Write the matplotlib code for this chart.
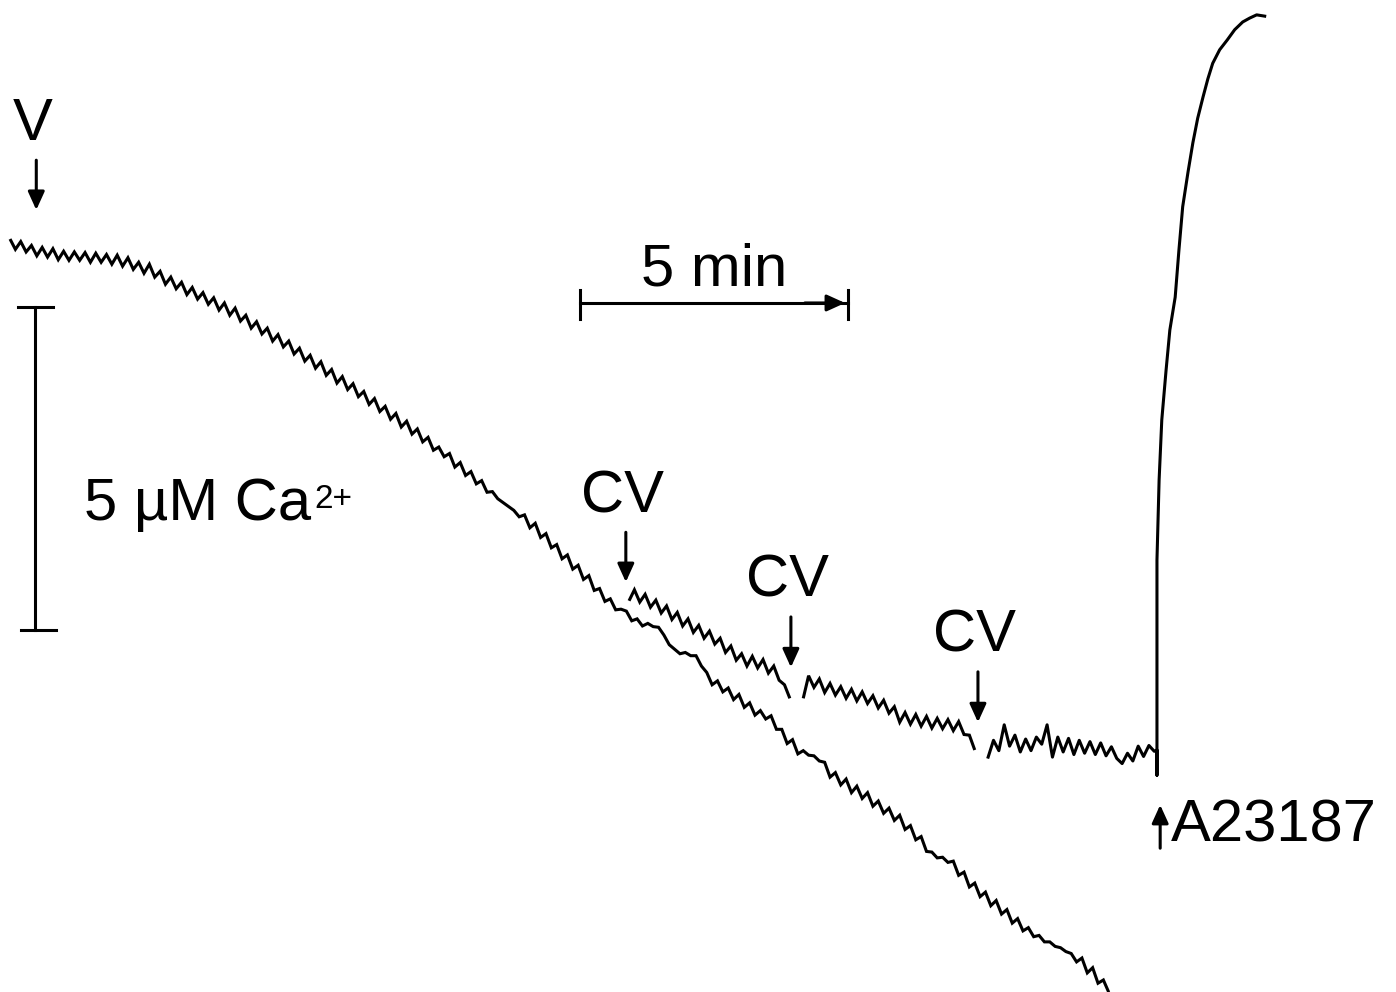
import numpy as np
import matplotlib.pyplot as plt

plt.rcParams['font.family'] = ['Liberation Sans', 'DejaVu Sans']

# recorder sampled every 0.1 min; time in min, Ca2+ in uM (relative)
DT = 0.1

# common part of both records, from addition of V (t = 0) up to first CV
t0_before = 0.0
ca_before = [
    11.78, 11.62, 11.74, 11.58, 11.68, 11.52, 11.65, 11.50, 11.63, 11.46,
    11.59, 11.45, 11.58, 11.45, 11.57, 11.42, 11.56, 11.42, 11.54, 11.39,
    11.53, 11.36, 11.49, 11.31, 11.42, 11.25, 11.39, 11.19, 11.28, 11.08,
    11.19, 11.01, 11.11, 10.92, 11.03, 10.85, 10.95, 10.77, 10.87, 10.68,
    10.79, 10.60, 10.71, 10.51, 10.60, 10.40, 10.50, 10.31, 10.40, 10.20,
    10.30, 10.11, 10.20, 10.00, 10.09, 9.89, 9.98, 9.78, 9.88, 9.67,
    9.76, 9.55, 9.65, 9.45, 9.54, 9.34, 9.42, 9.22, 9.31, 9.11,
    9.19, 8.99, 9.08, 8.87, 8.96, 8.76, 8.84, 8.64, 8.71, 8.51,
    8.56, 8.41, 8.46, 8.25, 8.32, 8.12, 8.18, 7.99, 8.04, 7.86,
    7.87, 7.76, 7.70, 7.64, 7.58, 7.48, 7.51, 7.31, 7.38, 7.16,
    7.22, 7.00, 7.05, 6.83, 6.89, 6.67, 6.73, 6.51, 6.57, 6.34,
    6.37, 6.17, 6.21, 6.04, 6.05,
]

# control record (no CV) continuing after 11.4 min
t0_control = 11.5
ca_control = [
    6.02, 5.87, 5.90, 5.79, 5.83, 5.78, 5.77, 5.65, 5.50, 5.43,
    5.36, 5.38, 5.33, 5.33, 5.17, 5.07, 4.88, 4.94, 4.77, 4.83,
    4.65, 4.73, 4.53, 4.60, 4.41, 4.48, 4.35, 4.40, 4.19, 4.19,
    3.97, 4.03, 3.81, 3.86, 3.79, 3.78, 3.70, 3.68, 3.45, 3.52,
    3.33, 3.42, 3.21, 3.31, 3.12, 3.21, 3.00, 3.08, 2.89, 2.97,
    2.78, 2.86, 2.64, 2.70, 2.48, 2.53, 2.30, 2.29, 2.20, 2.21,
    2.13, 2.15, 1.93, 1.98, 1.75, 1.81, 1.60, 1.67, 1.46, 1.54,
    1.33, 1.40, 1.19, 1.26, 1.07, 1.12, 0.98, 1.00, 0.90, 0.90,
    0.83, 0.81, 0.75, 0.72, 0.59, 0.65, 0.42, 0.50, 0.26, 0.31,
    0.12,
]

# record with CV additions: segment after each CV
t0_seg1 = 11.55
ca_seg1 = [
    6.18, 6.35, 6.16, 6.28, 6.08, 6.19, 5.99, 6.10, 5.89, 6.00,
    5.79, 5.90, 5.69, 5.80, 5.60, 5.71, 5.51, 5.60, 5.38, 5.48,
    5.26, 5.36, 5.17, 5.32, 5.14, 5.27, 5.06, 5.17, 4.95, 4.88,
    4.67,
]
t0_seg2 = 14.8
ca_seg2 = [
    4.67, 5.02, 4.84, 4.97, 4.76, 4.90, 4.72, 4.85, 4.67, 4.81,
    4.63, 4.77, 4.59, 4.71, 4.52, 4.64, 4.44, 4.54, 4.30, 4.45,
    4.27, 4.42, 4.24, 4.39, 4.21, 4.36, 4.20, 4.34, 4.17, 4.31,
    4.11, 4.10, 3.87,
]
t0_seg3 = 18.25
ca_seg3 = [
    3.76, 4.02, 3.86, 4.26, 3.93, 4.10, 3.84, 4.04, 3.86, 4.07,
    3.96, 4.26, 3.76, 4.07, 3.84, 4.05, 3.80, 4.02, 3.82, 4.00,
    3.80, 3.98, 3.78, 3.92, 3.74, 3.66, 3.82, 3.70, 3.93, 3.77,
    3.94, 3.85,
]

# A23187 response
t_a23187 = [21.40, 21.40, 21.40, 21.44, 21.49, 21.57, 21.64, 21.74, 21.81, 21.88,
            21.98, 22.07, 22.16, 22.26, 22.35, 22.44, 22.57, 22.71, 22.85,
            23.00, 23.13, 23.26, 23.41]
ca_a23187 = [3.87, 3.48, 6.81, 8.05, 8.98, 9.75, 10.37, 10.88, 11.61, 12.28,
             12.82, 13.27, 13.65, 13.98, 14.26, 14.50, 14.71, 14.86, 15.02,
             15.14, 15.20, 15.25, 15.23]

# additions: label, time (min), arrow top, arrow tip (uM)
additions = [('V', 0.49, 13.00, 12.23),
             ('CV', 11.49, 7.24, 6.47),
             ('CV', 14.57, 5.93, 5.15),
             ('CV', 18.06, 5.08, 4.30)]

SCALE_MIN = 5
SCALE_UM = 5


def times(t0, values):
    return t0 + DT * np.arange(len(values))


fig = plt.figure(figsize=(13.96, 9.92), dpi=100)
ax = fig.add_axes([0, 0, 1, 1])
ax.set_xlim(-0.187, 25.86)
ax.set_ylim(0.124, 15.48)
ax.axis('off')

lw = 2.2
style = dict(color='k', lw=lw, solid_joinstyle='miter', solid_capstyle='butt')
# control trace
ax.plot(np.concatenate([times(t0_before, ca_before), times(t0_control, ca_control)]),
        ca_before + ca_control, **style)
# CV trace segments, last one running into the A23187 response
ax.plot(times(t0_seg1, ca_seg1), ca_seg1, **style)
ax.plot(times(t0_seg2, ca_seg2), ca_seg2, **style)
ax.plot(np.concatenate([times(t0_seg3, ca_seg3), t_a23187]), ca_seg3 + ca_a23187,
        color='k', lw=lw, solid_joinstyle='round')

arrow = dict(arrowstyle='-|>,head_length=0.55,head_width=0.25', color='k',
             lw=2.2, shrinkA=0, shrinkB=0, mutation_scale=20)
fs = 43
for label, t, top, tip in additions:
    ax.annotate('', xy=(t, tip), xytext=(t, top), arrowprops=arrow)
    ax.text(t - 0.07, top + 0.55, label, fontsize=fs, ha='center', va='center')

# A23187 marker
ax.annotate('', xy=(21.46, 3.02), xytext=(21.46, 2.35), arrowprops=arrow)
ax.text(21.66, 2.69, 'A23187', fontsize=fs, ha='left', va='center')

# time scale bar
bx0, by = 10.63, 10.79
ax.plot([bx0, bx0 + SCALE_MIN], [by, by], color='k', lw=2.2)
ax.plot([bx0, bx0], [by - 0.25, by + 0.2], color='k', lw=2.2)
ax.plot([bx0 + SCALE_MIN, bx0 + SCALE_MIN], [by - 0.25, by + 0.2], color='k', lw=2.2)
ax.annotate('', xy=(bx0 + SCALE_MIN - 0.05, by), xytext=(bx0 + SCALE_MIN - 0.8, by),
            arrowprops=arrow)
ax.text(bx0 + SCALE_MIN / 2, 11.30, f'{SCALE_MIN} min', fontsize=fs, ha='center', va='center')

# concentration scale bar
vx, vy0 = 0.47, 5.73
ax.plot([vx, vx], [vy0, vy0 + SCALE_UM], color='k', lw=2.2)
ax.plot([0.15, 0.80], [vy0 + SCALE_UM, vy0 + SCALE_UM], color='k', lw=2.2)
ax.plot([0.20, 0.85], [vy0, vy0], color='k', lw=2.2)
lab = ax.text(1.38, 7.43, f'{SCALE_UM} \u00b5M Ca', fontsize=fs, ha='left', va='baseline')
ax.annotate('2+', xy=(1.0, 1.0), xycoords=lab, xytext=(2, -5),
            textcoords='offset points', fontsize=24, ha='left', va='top')

fig.savefig('out.png', dpi=100, facecolor='white')
